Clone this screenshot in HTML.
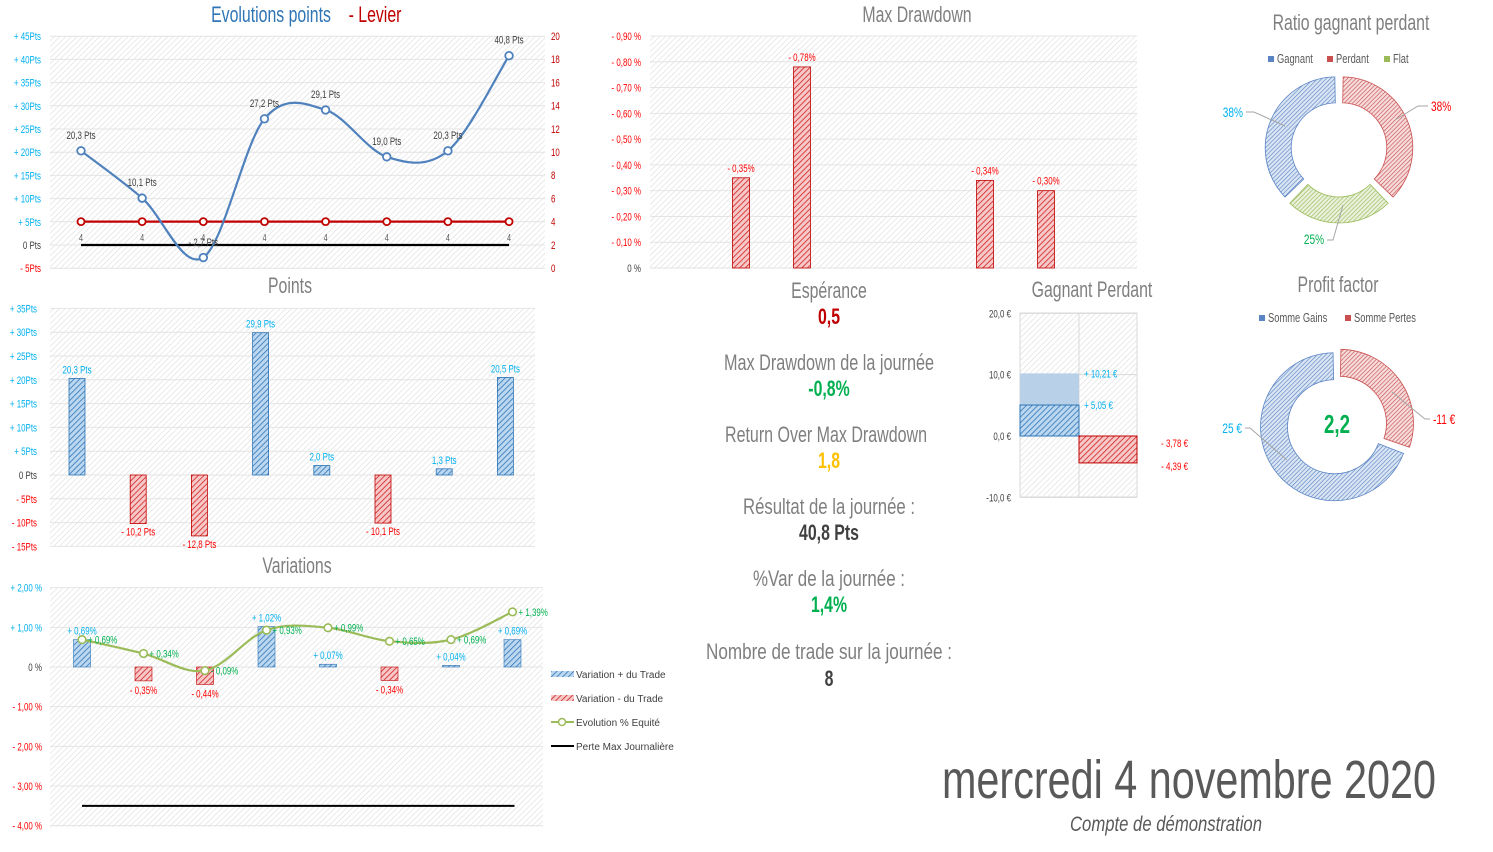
<!DOCTYPE html>
<html><head><meta charset="utf-8"><style>
html,body{margin:0;padding:0;background:#fff;}
svg{display:block;font-family:"Liberation Sans Narrow","Liberation Sans",sans-serif;}
</style></head><body>
<svg id="s" width="1493" height="852" viewBox="0 0 1493 852">
<defs>
<pattern id="bg" width="4" height="4" patternUnits="userSpaceOnUse" patternTransform="rotate(45)"><rect width="4" height="4" fill="#fff"/><line x1="0" y1="0" x2="0" y2="4" stroke="#dcdcdc" stroke-width="1.2"/></pattern>
<pattern id="hb" width="4" height="4" patternUnits="userSpaceOnUse" patternTransform="rotate(45)"><rect width="4" height="4" fill="#bcd7f0"/><line x1="0" y1="0" x2="0" y2="4" stroke="#2e75b6" stroke-width="1.6"/></pattern>
<pattern id="hr" width="4" height="4" patternUnits="userSpaceOnUse" patternTransform="rotate(45)"><rect width="4" height="4" fill="#f7c8c8"/><line x1="0" y1="0" x2="0" y2="4" stroke="#d02020" stroke-width="1.6"/></pattern>
<pattern id="hpb" width="3" height="3" patternUnits="userSpaceOnUse" patternTransform="rotate(45)"><rect width="3" height="3" fill="#dbe6f4"/><line x1="0" y1="0" x2="0" y2="3" stroke="#5b84c4" stroke-width="1.3"/></pattern>
<pattern id="hpr" width="3" height="3" patternUnits="userSpaceOnUse" patternTransform="rotate(45)"><rect width="3" height="3" fill="#f6dcdc"/><line x1="0" y1="0" x2="0" y2="3" stroke="#c9504f" stroke-width="1.3"/></pattern>
<pattern id="hpg" width="3" height="3" patternUnits="userSpaceOnUse" patternTransform="rotate(45)"><rect width="3" height="3" fill="#e9f1dc"/><line x1="0" y1="0" x2="0" y2="3" stroke="#9bbb59" stroke-width="1.3"/></pattern>
</defs>
<g id="g"></g>

<text x="829" y="298" text-anchor="middle" font-size="22" fill="#7f7f7f">Espérance</text>
<text x="829" y="324" text-anchor="middle" font-size="22" font-weight="bold" fill="#c00000">0,5</text>
<text x="829" y="370" text-anchor="middle" font-size="22" fill="#7f7f7f" textLength="210" lengthAdjust="spacingAndGlyphs">Max Drawdown de la journée</text>
<text x="829" y="396" text-anchor="middle" font-size="22" font-weight="bold" fill="#00b050">-0,8%</text>
<text x="826" y="442" text-anchor="middle" font-size="22" fill="#7f7f7f" textLength="202" lengthAdjust="spacingAndGlyphs">Return Over Max Drawdown</text>
<text x="829" y="468" text-anchor="middle" font-size="22" font-weight="bold" fill="#ffc000">1,8</text>
<text x="829" y="514" text-anchor="middle" font-size="22" fill="#7f7f7f" textLength="172" lengthAdjust="spacingAndGlyphs">Résultat de la journée :</text>
<text x="829" y="540" text-anchor="middle" font-size="22" font-weight="bold" fill="#404040">40,8 Pts</text>
<text x="829" y="586" text-anchor="middle" font-size="22" fill="#7f7f7f" textLength="152" lengthAdjust="spacingAndGlyphs">%Var de la journée :</text>
<text x="829" y="612" text-anchor="middle" font-size="22" font-weight="bold" fill="#00b050">1,4%</text>
<text x="829" y="659" text-anchor="middle" font-size="22" fill="#7f7f7f" textLength="246" lengthAdjust="spacingAndGlyphs">Nombre de trade sur la journée :</text>
<text x="829" y="686" text-anchor="middle" font-size="22" font-weight="bold" fill="#404040">8</text>

<text x="1189" y="798" text-anchor="middle" font-size="54" fill="#595959" textLength="494" lengthAdjust="spacingAndGlyphs">mercredi 4 novembre 2020</text>
<text x="1166" y="831" text-anchor="middle" font-size="21" font-style="italic" fill="#595959" textLength="192" lengthAdjust="spacingAndGlyphs">Compte de démonstration</text>
</svg>
<script>
// ---- Evolutions points chart data
const evoValues = [20.3, 10.1, -2.7, 27.2, 29.1, 19.0, 20.3, 40.8];
const evoLabels = ["20,3 Pts","10,1 Pts","- 2,7 Pts","27,2 Pts","29,1 Pts","19,0 Pts","20,3 Pts","40,8 Pts"];
const levierValues = [4, 4, 4, 4, 4, 4, 4, 4];
const evoTicks = [45, 40, 35, 30, 25, 20, 15, 10, 5, 0, -5];
const levierTicks = [20, 18, 16, 14, 12, 10, 8, 6, 4, 2, 0];
// ---- Points chart data
const pointsValues = [20.3, -10.2, -12.8, 29.9, 2.0, -10.1, 1.3, 20.5];
const pointsLabels = ["20,3 Pts","- 10,2 Pts","- 12,8 Pts","29,9 Pts","2,0 Pts","- 10,1 Pts","1,3 Pts","20,5 Pts"];
const pointsTicks = [35, 30, 25, 20, 15, 10, 5, 0, -5, -10, -15];
// ---- Variations chart data
const varBars = [0.69, -0.35, -0.44, 1.02, 0.07, -0.34, 0.04, 0.69];
const varBarLabels = ["+ 0,69%","- 0,35%","- 0,44%","+ 1,02%","+ 0,07%","- 0,34%","+ 0,04%","+ 0,69%"];
const equityValues = [0.69, 0.34, -0.09, 0.93, 0.99, 0.65, 0.69, 1.39];
const equityLabels = ["+ 0,69%","+ 0,34%","- 0,09%","+ 0,93%","+ 0,99%","+ 0,65%","+ 0,69%","+ 1,39%"];
const maxLoss = -3.5;
const varTicks = [2, 1, 0, -1, -2, -3, -4];
const varTickLabels = ["+ 2,00 %","+ 1,00 %","0 %","- 1,00 %","- 2,00 %","- 3,00 %","- 4,00 %"];
// ---- Max drawdown data
const ddValues = [0, 0.35, 0.78, 0, 0, 0.34, 0.30, 0];
const ddLabels = ["","- 0,35%","- 0,78%","","","- 0,34%","- 0,30%",""];
const ddTicks = [0.9, 0.8, 0.7, 0.6, 0.5, 0.4, 0.3, 0.2, 0.1, 0];
const ddTickLabels = ["- 0,90 %","- 0,80 %","- 0,70 %","- 0,60 %","- 0,50 %","- 0,40 %","- 0,30 %","- 0,20 %","- 0,10 %","0 %"];
// ---- Gagnant perdant data
const gpTicks = [20, 10, 0, -10];
const gpTickLabels = ["20,0 €","10,0 €","0,0 €","-10,0 €"];
const gpGainMax = 10.21, gpGainAvg = 5.05, gpLossAvg = -3.78, gpLossMax = -4.39;
// ---- Donuts
const ratioNames = ["Perdant","Flat","Gagnant"];
const ratioValues = [37.5, 25, 37.5];
const ratioLabels = ["38%","25%","38%"];
const pfNames = ["Somme Pertes","Somme Gains"];
const pfValues = [11, 25];
const pfLabels = ["-11 €","25 €"];
const profitFactor = "2,2";

const NS = "http://www.w3.org/2000/svg";
const G = document.getElementById('g');
function mk(tag, attrs, parent) {
  const e = document.createElementNS(NS, tag);
  for (const k in attrs) e.setAttribute(k, attrs[k]);
  (parent || G).appendChild(e);
  return e;
}
function txt(x, y, s, size, fill, anchor, parent) {
  const e = mk('text', {x: x, y: y, 'font-size': size, fill: fill, 'text-anchor': anchor || 'middle'}, parent);
  e.textContent = s;
  return e;
}
function smooth(pts) {
  let d = "M" + pts[0][0] + "," + pts[0][1];
  for (let i = 0; i < pts.length - 1; i++) {
    const p0 = pts[i - 1] || pts[i], p1 = pts[i], p2 = pts[i + 1], p3 = pts[i + 2] || p2;
    const c1x = p1[0] + (p2[0] - p0[0]) / 6, c1y = p1[1] + (p2[1] - p0[1]) / 6;
    const c2x = p2[0] - (p3[0] - p1[0]) / 6, c2y = p2[1] - (p3[1] - p1[1]) / 6;
    d += " C" + c1x + "," + c1y + " " + c2x + "," + c2y + " " + p2[0] + "," + p2[1];
  }
  return d;
}
function plotBg(x0, y0, x1, y1, ticks, yf, name) {
  const r = mk('rect', {x: x0, y: y0, width: x1 - x0, height: y1 - y0, fill: 'url(#bg)'});
  
  
  ticks.forEach(t => {
    const l = mk('line', {x1: x0, x2: x1, y1: yf(t), y2: yf(t), stroke: '#e4e4e4', 'stroke-width': 1});
    
    
  });
}
const catX = i => 81 + i * 61.15;

// ===== Chart 1: Evolutions points
(function(){
  const y = v => 245 + (0 - v) * (232 / 50);
  const yR = v => 268 - v * (232 / 20);
  plotBg(50, 36, 545, 269, evoTicks, y, 'evolution-plot-area');
  const t1 = txt(271, 22, 'Evolutions points', 22, '#2e75b6', 'middle');
  
  
  const t2 = txt(375, 22, '- Levier', 22, '#c00000', 'middle');
  
  
  evoTicks.forEach(t => {
    const e = txt(41, y(t) + 4, t > 0 ? '+ ' + t + 'Pts' : (t < 0 ? '- ' + (-t) + 'Pts' : '0 Pts'), 11, t === 0 ? '#404040' : (t > 0 ? '#00b0f0' : '#ff0000'), 'end');
    
    
  });
  levierTicks.forEach(t => {
    const e = txt(551, yR(t) + 4, String(t), 11, '#c00000', 'start');
    
    
  });
  const base = mk('line', {x1: catX(0), x2: catX(7), y1: y(0), y2: y(0), stroke: '#000', 'stroke-width': 2.2});
  
  
  const lp = levierValues.map((v, i) => [catX(i), yR(v)]);
  const ll = mk('path', {d: smooth(lp), fill: 'none', stroke: '#c00000', 'stroke-width': 2.2});
  
  
  levierValues.forEach((v, i) => {
    const c = mk('circle', {cx: catX(i), cy: yR(v), r: 3.5, fill: '#fff', stroke: '#c00000', 'stroke-width': 1.8});
    
    
    const lab = txt(catX(i), y(0) - 4, String(v), 10, '#595959');
    
    
  });
  const ep = evoValues.map((v, i) => [catX(i), y(v)]);
  const el = mk('path', {d: smooth(ep), fill: 'none', stroke: '#4f81bd', 'stroke-width': 2.2});
  
  
  evoValues.forEach((v, i) => {
    const c = mk('circle', {cx: catX(i), cy: y(v), r: 3.8, fill: '#fff', stroke: '#4f81bd', 'stroke-width': 1.8});
    
    
    const lab = txt(catX(i), y(v) - 12, evoLabels[i], 11, '#404040');
    if (v < 0) lab.setAttribute('y', y(0) + 1);
    
    
  });
})();

// ===== Chart 2: Points
(function(){
  const y = v => 475 - v * (238 / 50);
  plotBg(50, 308, 535, 547, pointsTicks, y, 'points-plot-area');
  const t = txt(290, 293, 'Points', 22, '#7f7f7f');
  
  
  pointsTicks.forEach(v => {
    const e = txt(37, y(v) + 4, v > 0 ? '+ ' + v + 'Pts' : (v < 0 ? '- ' + (-v) + 'Pts' : '0 Pts'), 11, v === 0 ? '#404040' : (v > 0 ? '#00b0f0' : '#ff0000'), 'end');
    
    
  });
  pointsValues.forEach((v, i) => {
    const x = 77 + i * 61.2;
    const top = Math.min(y(v), y(0)), h = Math.abs(y(v) - y(0));
    const b = mk('rect', {x: x - 8, y: top, width: 16, height: h, fill: v >= 0 ? 'url(#hb)' : 'url(#hr)', stroke: v >= 0 ? '#2e75b6' : '#c00000', 'stroke-width': 0.8});
    
    
    const lab = txt(x, v >= 0 ? top - 5 : top + h + 12, pointsLabels[i], 11, v >= 0 ? '#00b0f0' : '#ff0000');
    
    
  });
})();

// ===== Chart 3: Variations
(function(){
  const y = v => 667 - v * (238 / 6);
  plotBg(50, 588, 543, 827, varTicks, y, 'variations-plot-area');
  const t = txt(297, 573, 'Variations', 22, '#7f7f7f');
  
  
  varTicks.forEach((v, i) => {
    const e = txt(42, y(v) + 4, varTickLabels[i], 11, v === 0 ? '#404040' : (v > 0 ? '#00b0f0' : '#ff0000'), 'end');
    
    
  });
  const vx = i => 82 + i * 61.5;
  varBars.forEach((v, i) => {
    const top = Math.min(y(v), y(0)), h = Math.abs(y(v) - y(0));
    const b = mk('rect', {x: vx(i) - 8.5, y: top, width: 17, height: h, fill: v >= 0 ? 'url(#hb)' : 'url(#hr)', stroke: v >= 0 ? '#2e75b6' : '#c00000', 'stroke-width': 0.6});
    
    
    const lab = txt(vx(i), v >= 0 ? top - 5 : top + h + 13, varBarLabels[i], 11, v >= 0 ? '#00b0f0' : '#ff0000');
    
    
  });
  const ml = mk('line', {x1: vx(0), x2: vx(7) + 2, y1: y(maxLoss), y2: y(maxLoss), stroke: '#000', 'stroke-width': 2});
  
  
  const ep = equityValues.map((v, i) => [vx(i), y(v)]);
  const el = mk('path', {d: smooth(ep), fill: 'none', stroke: '#9bbb59', 'stroke-width': 2.2});
  
  
  equityValues.forEach((v, i) => {
    const c = mk('circle', {cx: vx(i), cy: y(v), r: 3.8, fill: '#fff', stroke: '#9bbb59', 'stroke-width': 1.6});
    
    
    const lab = txt(vx(i) + 6, y(v) + 4, equityLabels[i], 11, '#00b050', 'start');
    
    
  });
  const leg = [['Variation + du Trade', 'url(#hb)', 'bar'], ['Variation - du Trade', 'url(#hr)', 'bar'], ['Evolution % Equité', '#9bbb59', 'mk'], ['Perte Max Journalière', '#000', 'ln']];
  leg.forEach((L, i) => {
    const yy = 674 + i * 24;
    if (L[2] === 'bar') { const r = mk('rect', {x: 551, y: yy - 3, width: 23, height: 6, fill: L[1]});   }
    else {
      const l = mk('line', {x1: 551, x2: 574, y1: yy, y2: yy, stroke: L[1], 'stroke-width': 2});
      
      
      if (L[2] === 'mk') { const c = mk('circle', {cx: 562, cy: yy, r: 3.5, fill: '#fff', stroke: '#9bbb59', 'stroke-width': 1.5});   }
    }
    const e = txt(576, yy + 4, L[0], 10, '#404040', 'start');
    e.setAttribute('font-family', 'Liberation Sans, sans-serif');
    e.setAttribute('font-size', '10');
    e.setAttribute('data-keep', '1');
    
    
  });
})();

// ===== Max Drawdown
(function(){
  const y = v => 268 - v * (232 / 0.9);
  plotBg(650, 36, 1137, 269, ddTicks, y, 'drawdown-plot-area');
  const t = txt(917, 22, 'Max Drawdown', 22, '#7f7f7f');
  
  
  ddTicks.forEach((v, i) => {
    const e = txt(641, y(v) + 4, ddTickLabels[i], 11, v === 0 ? '#404040' : '#ff0000', 'end');
    
    
  });
  ddValues.forEach((v, i) => {
    if (!v) return;
    const x = 680 + i * 61;
    const b = mk('rect', {x: x - 8.5, y: y(v), width: 17, height: y(0) - y(v), fill: 'url(#hr)', stroke: '#c00000', 'stroke-width': 0.8});
    
    
    const lab = txt(x, y(v) - 6, ddLabels[i], 11, '#ff0000');
    
    
  });
})();

// ===== Gagnant Perdant
(function(){
  const y = v => 436 - v * (184 / 30);
  const r0 = mk('rect', {x: 1020, y: 313, width: 117, height: 184, fill: 'url(#bg)', stroke: '#d9d9d9'});
  
  
  gpTicks.forEach(v => { const l = mk('line', {x1: 1020, x2: 1137, y1: y(v), y2: y(v), stroke: '#d9d9d9'});   });
  const vl = mk('line', {x1: 1079, x2: 1079, y1: 313, y2: 497, stroke: '#d9d9d9'});
  
  
  const t = txt(1092, 297, 'Gagnant Perdant', 22, '#7f7f7f');
  
  
  gpTicks.forEach((v, i) => {
    const e = txt(1011, y(v) + 4, gpTickLabels[i], 11, '#404040', 'end');
    
    
  });
  const b1 = mk('rect', {x: 1020, y: y(gpGainMax), width: 59, height: y(0) - y(gpGainMax), fill: '#b4cfe8', opacity: 0.95});
  
  
  const b2 = mk('rect', {x: 1020, y: y(gpGainAvg), width: 59, height: y(0) - y(gpGainAvg), fill: 'url(#hb)', stroke: '#2e75b6'});
  
  
  const b3 = mk('rect', {x: 1079, y: y(0), width: 58, height: y(gpLossMax) - y(0), fill: 'url(#hr)', stroke: '#c00000'});
  
  
  [[1084, y(gpGainMax) + 4, '+ 10,21 €', '#00b0f0', 'start'], [1084, y(gpGainAvg) + 4, '+ 5,05 €', '#00b0f0', 'start'], [1188, 447, '- 3,78 €', '#ff0000', 'end'], [1188, 470, '- 4,39 €', '#ff0000', 'end']].forEach(L => {
    const e = txt(L[0], L[1], L[2], 11, L[3], L[4]);
    
    
  });
})();

// ===== Donuts
function arc(cx, cy, R, r, a0, a1) {
  const p = (rad, a) => [cx + rad * Math.sin(a), cy - rad * Math.cos(a)];
  const large = (a1 - a0) > Math.PI ? 1 : 0;
  const A = p(R, a0), B = p(R, a1), C = p(r, a1), D = p(r, a0);
  return `M${A} A${R},${R} 0 ${large} 1 ${B} L${C} A${r},${r} 0 ${large} 0 ${D}Z`;
}
function donut(cx, cy, R, r, vals, fills, strokes, name) {
  const tot = vals.reduce((a, b) => a + b, 0);
  let a = 0;
  vals.forEach((v, i) => {
    const span = v / tot * 2 * Math.PI;
    const mid = a + span / 2;
    const off = 3, ox = off * Math.sin(mid), oy = -off * Math.cos(mid);
    const gap = 0.02;
    const p = mk('path', {d: arc(cx + ox, cy + oy, R, r, a + gap, a + span - gap), fill: fills[i], stroke: strokes[i], 'stroke-width': 0.8});
    
    
    a += span;
  });
}
(function(){
  const t = txt(1351, 30, 'Ratio gagnant perdant', 22, '#7f7f7f');
  
  
  const leg = [['Gagnant', '#5b84c4', 1268], ['Perdant', '#c9504f', 1327], ['Flat', '#9bbb59', 1384]];
  leg.forEach(L => {
    const r = mk('rect', {x: L[2], y: 56, width: 6, height: 6, fill: L[1]});
    
    
    const e = txt(L[2] + 9, 63, L[0], 13, '#595959', 'start');
    
    
  });
  donut(1339, 149, 71, 45, ratioValues, ['url(#hpr)', 'url(#hpg)', 'url(#hpb)'], ['#c9504f', '#9bbb59', '#5b84c4'], 'ratio-slice');
  [[1431, 111, ratioLabels[0], '#ff0000', 'start', 'M1428,106 L1418,106 L1395,120'], [1314, 244, ratioLabels[1], '#00b050', 'middle', 'M1327,240 L1333,240 L1343,205'], [1243, 117, ratioLabels[2], '#00b0f0', 'end', 'M1246,112 L1254,112 L1285,126']].forEach(L => {
    const pl = mk('path', {d: L[5], fill: 'none', stroke: '#a6a6a6'});
    
    
    const e = txt(L[0], L[1], L[2], 14, L[3], L[4]);
    
    
  });

  const t2 = txt(1338, 292, 'Profit factor', 22, '#7f7f7f');
  
  
  [['Somme Gains', '#5b84c4', 1259], ['Somme Pertes', '#c9504f', 1345]].forEach(L => {
    const r = mk('rect', {x: L[2], y: 315, width: 6, height: 6, fill: L[1]});
    
    
    const e = txt(L[2] + 9, 322, L[0], 13, '#595959', 'start');
    
    
  });
  donut(1337, 425, 74, 47, pfValues, ['url(#hpr)', 'url(#hpb)'], ['#c9504f', '#5b84c4'], 'profit-factor-slice');
  [[1433, 424, pfLabels[0], '#ff0000', 'start', 'M1430,419 L1425,419 L1392,392'], [1242, 433, pfLabels[1], '#00b0f0', 'end', 'M1245,428 L1250,428 L1287,460']].forEach(L => {
    const pl = mk('path', {d: L[5], fill: 'none', stroke: '#a6a6a6'});
    
    
    const e = txt(L[0], L[1], L[2], 14, L[3], L[4]);
    
    
  });
  const c = txt(1337, 433, profitFactor, 26, '#00b050');
  c.setAttribute('font-weight', 'bold');
  
  
})();

// Condense all text (emulate narrow display font)
document.querySelectorAll('#s text').forEach(t => {
  if (t.hasAttribute('textLength') || t.hasAttribute('data-keep')) return;
  const w = t.getComputedTextLength();
  if (w > 0) {
    t.setAttribute('textLength', (w * 0.72).toFixed(1));
    t.setAttribute('lengthAdjust', 'spacingAndGlyphs');
  }
});
</script>
</body></html>
